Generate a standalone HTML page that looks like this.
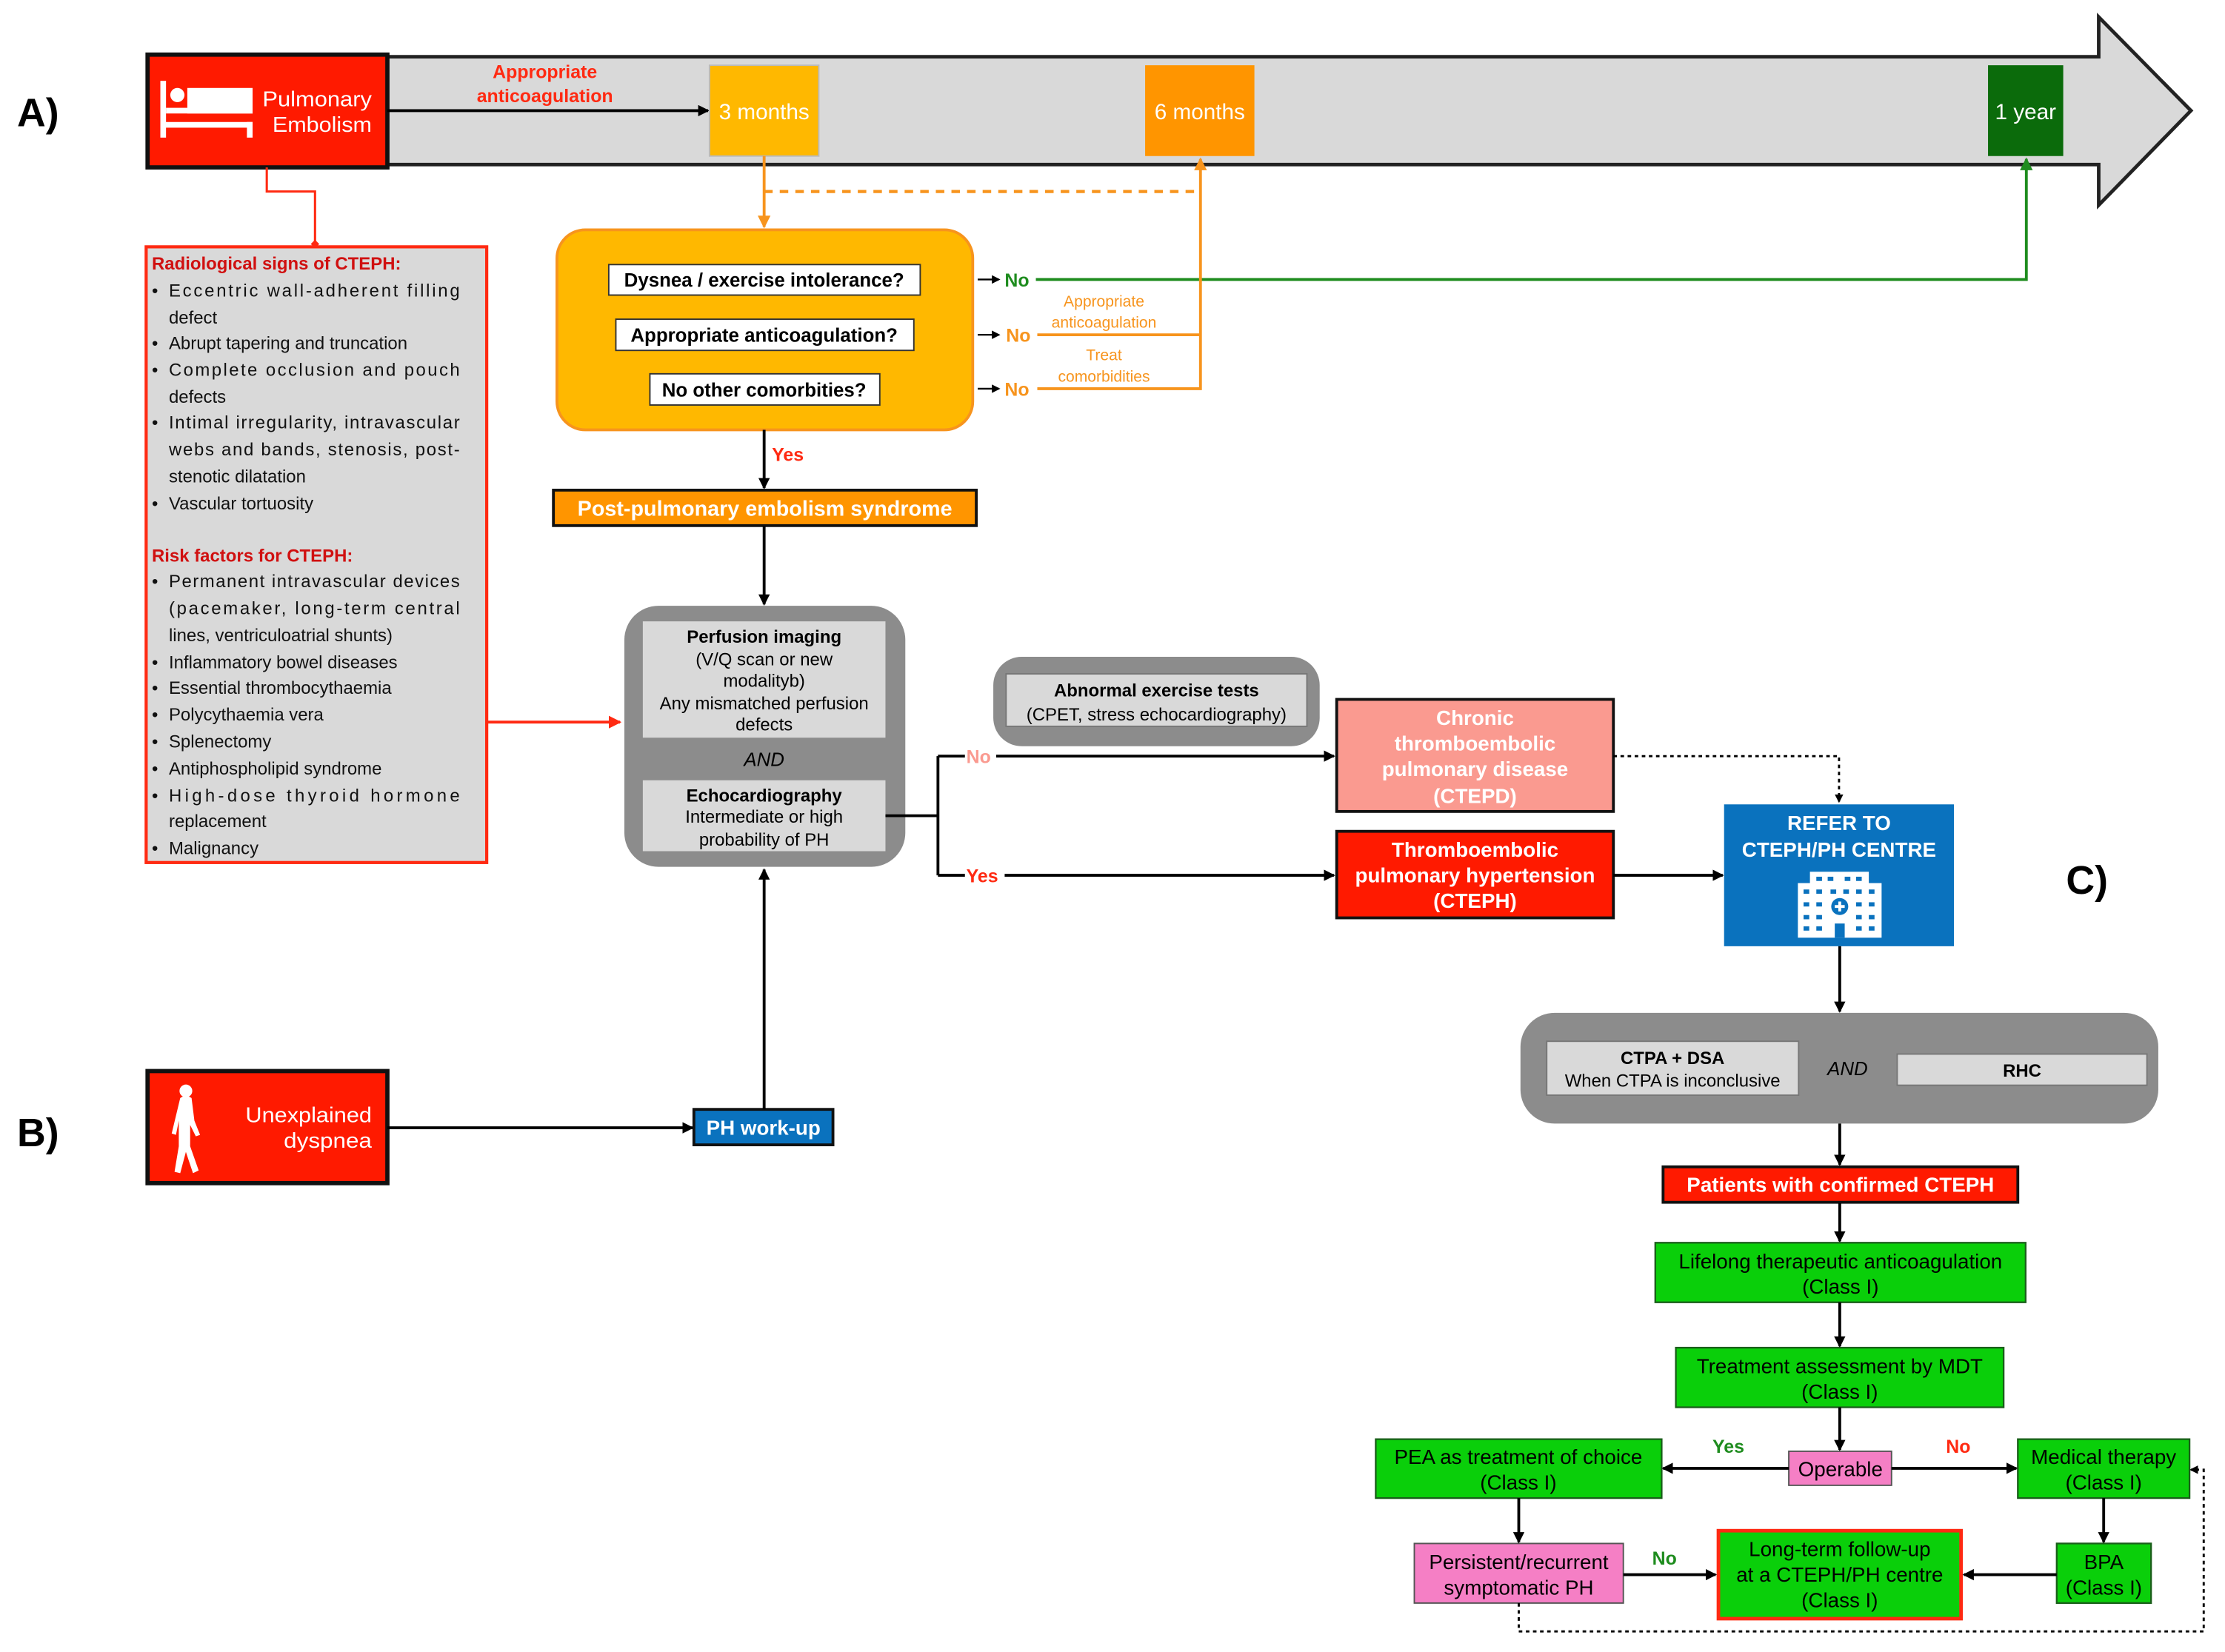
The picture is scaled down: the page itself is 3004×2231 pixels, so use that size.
<!DOCTYPE html>
<html><head><meta charset="utf-8"><style>
html,body{margin:0;padding:0;background:#fff;}
svg{display:block;}
text{font-family:"Liberation Sans",Arial,sans-serif;}
</style></head><body>
<svg width="3004" height="2231" viewBox="0 0 1568 1164.5" preserveAspectRatio="none" xmlns="http://www.w3.org/2000/svg">
<defs>
<marker id="ab" markerWidth="8" markerHeight="8" refX="7" refY="4" orient="auto" markerUnits="userSpaceOnUse"><path d="M0,0 L8,4 L0,8 z" fill="#000"/></marker>
<marker id="abs" markerWidth="6" markerHeight="6" refX="5" refY="3" orient="auto" markerUnits="userSpaceOnUse"><path d="M0,0 L6,3 L0,6 z" fill="#000"/></marker>
<marker id="ao" markerWidth="9" markerHeight="9" refX="8" refY="4.5" orient="auto" markerUnits="userSpaceOnUse"><path d="M0,0 L9,4.5 L0,9 z" fill="#F7941D"/></marker>
<marker id="ag" markerWidth="9" markerHeight="9" refX="8" refY="4.5" orient="auto" markerUnits="userSpaceOnUse"><path d="M0,0 L9,4.5 L0,9 z" fill="#1E8C1E"/></marker>
<marker id="ar" markerWidth="9" markerHeight="9" refX="8" refY="4.5" orient="auto" markerUnits="userSpaceOnUse"><path d="M0,0 L9,4.5 L0,9 z" fill="#FF2A12"/></marker>
<marker id="ard" markerWidth="6" markerHeight="6" refX="3" refY="3" orient="auto" markerUnits="userSpaceOnUse"><path d="M0,3 L3,0 L6,3 L3,6 z" fill="#FF2A12"/></marker>
</defs>

<path d="M273,40 L1479,40 L1479,12 L1544,78 L1479,144.6 L1479,116 L273,116 Z" fill="#D9D9D9" stroke="#222" stroke-width="2.5"/>
<text x="12" y="89" font-size="28" font-weight="bold">A)</text>
<text x="12" y="808" font-size="28" font-weight="bold">B)</text>
<text x="1456" y="630" font-size="28" font-weight="bold">C)</text>

<rect x="104" y="38.5" width="169" height="79.5" fill="#FF1A00" stroke="#111" stroke-width="3"/>
<g fill="#fff">
<rect x="113" y="57" width="4" height="40"/>
<rect x="113" y="86" width="65" height="4"/>
<rect x="174" y="86" width="4" height="11"/>
<circle cx="125" cy="67" r="5"/>
<rect x="132" y="62" width="46" height="18"/>
<rect x="117" y="76" width="61" height="4"/>
</g>
<text x="185" y="75" font-size="15" fill="#fff" textLength="77" lengthAdjust="spacingAndGlyphs">Pulmonary</text>
<text x="192" y="93" font-size="15" fill="#fff" textLength="70" lengthAdjust="spacingAndGlyphs">Embolism</text>

<line x1="273" y1="78" x2="499" y2="78" stroke="#000" stroke-width="2" marker-end="url(#ab)"/>
<text x="384" y="55" font-size="13" font-weight="bold" fill="#FF2A12" text-anchor="middle">Appropriate</text>
<text x="384" y="72" font-size="13" font-weight="bold" fill="#FF2A12" text-anchor="middle">anticoagulation</text>

<rect x="500" y="46" width="77" height="64" fill="#FFB800" stroke="#bbb" stroke-width="1"/>
<text x="538.5" y="84" font-size="15.5" fill="#fff" text-anchor="middle">3 months</text>
<rect x="807" y="46" width="77" height="64" fill="#FF9500"/>
<text x="845.5" y="84" font-size="15.5" fill="#fff" text-anchor="middle">6 months</text>
<rect x="1401" y="46" width="53" height="64" fill="#0B6B0B"/>
<text x="1427.5" y="84" font-size="15.5" fill="#fff" text-anchor="middle">1 year</text>

<polyline points="188,118 188,135 222,135 222,172" fill="none" stroke="#FF2A12" stroke-width="1.6" marker-end="url(#ard)"/>

<rect x="103" y="174" width="240" height="434" fill="#D9D9D9" stroke="#FF2A12" stroke-width="2.2"/>
<g font-size="12.5" fill="#111">
<text x="107" y="190" font-weight="bold" fill="#D01010">Radiological signs of CTEPH:</text>
<text x="107" y="209">•</text><text x="119" y="209" textLength="205" lengthAdjust="spacing">Eccentric wall-adherent filling</text>
<text x="119" y="228">defect</text>
<text x="107" y="246">•</text><text x="119" y="246">Abrupt tapering and truncation</text>
<text x="107" y="265">•</text><text x="119" y="265" textLength="205" lengthAdjust="spacing">Complete occlusion and pouch</text>
<text x="119" y="284">defects</text>
<text x="107" y="302">•</text><text x="119" y="302" textLength="205" lengthAdjust="spacing">Intimal irregularity, intravascular</text>
<text x="119" y="321" textLength="205" lengthAdjust="spacing">webs and bands, stenosis, post-</text>
<text x="119" y="340">stenotic dilatation</text>
<text x="107" y="359">•</text><text x="119" y="359">Vascular tortuosity</text>
<text x="107" y="396" font-weight="bold" fill="#D01010">Risk factors for CTEPH:</text>
<text x="107" y="414">•</text><text x="119" y="414" textLength="205" lengthAdjust="spacing">Permanent intravascular devices</text>
<text x="119" y="433" textLength="205" lengthAdjust="spacing">(pacemaker, long-term central</text>
<text x="119" y="452">lines, ventriculoatrial shunts)</text>
<text x="107" y="471">•</text><text x="119" y="471">Inflammatory bowel diseases</text>
<text x="107" y="489">•</text><text x="119" y="489">Essential thrombocythaemia</text>
<text x="107" y="508">•</text><text x="119" y="508">Polycythaemia vera</text>
<text x="107" y="527">•</text><text x="119" y="527">Splenectomy</text>
<text x="107" y="546">•</text><text x="119" y="546">Antiphospholipid syndrome</text>
<text x="107" y="565">•</text><text x="119" y="565" textLength="205" lengthAdjust="spacing">High-dose thyroid hormone</text>
<text x="119" y="583">replacement</text>
<text x="107" y="602">•</text><text x="119" y="602">Malignancy</text>
</g>

<line x1="538.5" y1="110" x2="538.5" y2="160" stroke="#F7941D" stroke-width="2" marker-end="url(#ao)"/>
<line x1="538.5" y1="135" x2="846" y2="135" stroke="#F7941D" stroke-width="2.2" stroke-dasharray="6,5"/>

<rect x="392.5" y="162" width="293" height="141" rx="20" fill="#FFB800" stroke="#F7941D" stroke-width="2"/>
<g font-size="13.5" font-weight="bold" text-anchor="middle">
<rect x="429" y="186.5" width="219.5" height="21.5" fill="#fff" stroke="#333" stroke-width="1"/>
<text x="538.5" y="202">Dysnea / exercise intolerance?</text>
<rect x="434" y="225" width="210" height="22" fill="#fff" stroke="#333" stroke-width="1"/>
<text x="538.5" y="241">Appropriate anticoagulation?</text>
<rect x="458" y="263.5" width="162" height="22" fill="#fff" stroke="#333" stroke-width="1"/>
<text x="538.5" y="279.5">No other comorbities?</text>
</g>
<line x1="689" y1="197" x2="704" y2="197" stroke="#000" stroke-width="1.2" marker-end="url(#abs)"/>
<line x1="689" y1="236" x2="704" y2="236" stroke="#000" stroke-width="1.2" marker-end="url(#abs)"/>
<line x1="689" y1="274" x2="704" y2="274" stroke="#000" stroke-width="1.2" marker-end="url(#abs)"/>
<text x="708" y="202" font-size="13" font-weight="bold" fill="#1E8C1E">No</text>
<text x="709" y="241" font-size="13" font-weight="bold" fill="#F7941D">No</text>
<text x="708" y="279" font-size="13" font-weight="bold" fill="#F7941D">No</text>
<polyline points="730,197 1428,197 1428,112" fill="none" stroke="#1E8C1E" stroke-width="2" marker-end="url(#ag)"/>
<polyline points="731,236 846,236" fill="none" stroke="#F7941D" stroke-width="2"/>
<polyline points="731,274 846,274 846,112" fill="none" stroke="#F7941D" stroke-width="2" marker-end="url(#ao)"/>
<g font-size="11" fill="#F7941D" text-anchor="middle">
<text x="778" y="216">Appropriate</text><text x="778" y="231">anticoagulation</text>
<text x="778" y="254">Treat</text><text x="778" y="269">comorbidities</text>
</g>

<line x1="538.5" y1="303" x2="538.5" y2="344" stroke="#000" stroke-width="2" marker-end="url(#ab)"/>
<text x="544" y="325" font-size="13" font-weight="bold" fill="#FF2A12">Yes</text>
<rect x="390" y="345.5" width="298" height="25" fill="#FF9500" stroke="#111" stroke-width="2"/>
<text x="539" y="363.5" font-size="15" font-weight="bold" fill="#fff" text-anchor="middle">Post-pulmonary embolism syndrome</text>
<line x1="538.5" y1="371" x2="538.5" y2="426" stroke="#000" stroke-width="2" marker-end="url(#ab)"/>

<rect x="440" y="427" width="198" height="184" rx="24" fill="#8C8C8C"/>
<rect x="453" y="438" width="171" height="82" fill="#D9D9D9"/>
<g font-size="12.5" text-anchor="middle">
<text x="538.5" y="453" font-weight="bold">Perfusion imaging</text>
<text x="538.5" y="469">(V/Q scan or new</text>
<text x="538.5" y="484">modalityb)</text>
<text x="538.5" y="500">Any mismatched perfusion</text>
<text x="538.5" y="515">defects</text>
<text x="538.5" y="540" font-style="italic" font-size="13.5">AND</text>
</g>
<rect x="453" y="550" width="171" height="50" fill="#D9D9D9"/>
<g font-size="12.5" text-anchor="middle">
<text x="538.5" y="565" font-weight="bold">Echocardiography</text>
<text x="538.5" y="580">Intermediate or high</text>
<text x="538.5" y="596">probability of PH</text>
</g>
<line x1="343" y1="509" x2="437" y2="509" stroke="#FF2A12" stroke-width="2" marker-end="url(#ar)"/>

<polyline points="624,575 661,575" fill="none" stroke="#000" stroke-width="2"/>
<line x1="661" y1="533" x2="661" y2="617" stroke="#000" stroke-width="2"/>
<line x1="661" y1="533" x2="940" y2="533" stroke="#000" stroke-width="2" marker-end="url(#ab)"/>
<line x1="661" y1="617" x2="940" y2="617" stroke="#000" stroke-width="2" marker-end="url(#ab)"/>
<rect x="680" y="525" width="22" height="16" fill="#fff"/>
<text x="681" y="538" font-size="13" font-weight="bold" fill="#FA9A90">No</text>
<rect x="680" y="609" width="28" height="16" fill="#fff"/>
<text x="681" y="622" font-size="13" font-weight="bold" fill="#FF2A12">Yes</text>

<rect x="700" y="463" width="230" height="63" rx="20" fill="#8C8C8C"/>
<rect x="709" y="475" width="212" height="37" fill="#D9D9D9" stroke="#777" stroke-width="1"/>
<text x="815" y="491" font-size="12.5" font-weight="bold" text-anchor="middle">Abnormal exercise tests</text>
<text x="815" y="508" font-size="12.5" text-anchor="middle">(CPET, stress echocardiography)</text>

<rect x="942" y="493" width="195" height="79" fill="#FA9A90" stroke="#111" stroke-width="2"/>
<g font-size="14.5" font-weight="bold" fill="#fff" text-anchor="middle">
<text x="1039.5" y="511">Chronic</text>
<text x="1039.5" y="529">thromboembolic</text>
<text x="1039.5" y="547">pulmonary disease</text>
<text x="1039.5" y="566">(CTEPD)</text>
</g>
<rect x="942" y="586" width="195" height="61" fill="#FF1A00" stroke="#111" stroke-width="2"/>
<g font-size="14.5" font-weight="bold" fill="#fff" text-anchor="middle">
<text x="1039.5" y="604">Thromboembolic</text>
<text x="1039.5" y="622">pulmonary hypertension</text>
<text x="1039.5" y="640">(CTEPH)</text>
</g>
<line x1="1137" y1="617" x2="1214" y2="617" stroke="#000" stroke-width="2" marker-end="url(#ab)"/>
<polyline points="1137,533 1296,533 1296,565" fill="none" stroke="#000" stroke-width="1.5" stroke-dasharray="2.5,2.5" marker-end="url(#abs)"/>

<rect x="1215" y="567" width="162" height="100" fill="#0A72BE"/>
<text x="1296" y="585" font-size="14.5" font-weight="bold" fill="#fff" text-anchor="middle">REFER TO</text>
<text x="1296" y="604" font-size="14.5" font-weight="bold" fill="#fff" text-anchor="middle">CTEPH/PH CENTRE</text>
<g fill="#fff">
<rect x="1275.5" y="614.5" width="41.5" height="10"/>
<rect x="1267" y="622.5" width="59" height="38.5"/>
</g>
<g fill="#0A72BE">
<rect x="1280" y="618" width="4" height="3"/><rect x="1288" y="618" width="4" height="3"/><rect x="1300" y="618" width="4" height="3"/><rect x="1308" y="618" width="4" height="3"/>
<rect x="1271" y="627" width="4" height="3"/><rect x="1280" y="627" width="4" height="3"/><rect x="1290" y="627" width="4" height="3"/><rect x="1299" y="627" width="4" height="3"/><rect x="1308" y="627" width="4" height="3"/><rect x="1317" y="627" width="4" height="3"/>
<rect x="1271" y="636" width="4" height="3"/><rect x="1280" y="636" width="4" height="3"/><rect x="1308" y="636" width="4" height="3"/><rect x="1317" y="636" width="4" height="3"/>
<rect x="1271" y="645" width="4" height="3"/><rect x="1280" y="645" width="4" height="3"/><rect x="1308" y="645" width="4" height="3"/><rect x="1317" y="645" width="4" height="3"/>
<rect x="1271" y="653" width="4" height="3"/><rect x="1280" y="653" width="4" height="3"/><rect x="1308" y="653" width="4" height="3"/><rect x="1317" y="653" width="4" height="3"/>
<circle cx="1296.5" cy="639" r="6"/>
<rect x="1293" y="651" width="7" height="10"/>
</g>
<path d="M1293,639 h7 M1296.5,635.5 v7" stroke="#fff" stroke-width="2"/>

<line x1="1296.5" y1="667" x2="1296.5" y2="713" stroke="#000" stroke-width="2" marker-end="url(#ab)"/>

<rect x="1071.5" y="714" width="449.5" height="78" rx="24" fill="#8C8C8C"/>
<rect x="1090" y="734" width="177.5" height="38" fill="#D9D9D9" stroke="#777" stroke-width="1"/>
<text x="1178.7" y="750" font-size="12.5" font-weight="bold" text-anchor="middle">CTPA + DSA</text>
<text x="1178.7" y="766" font-size="12.5" text-anchor="middle">When CTPA is inconclusive</text>
<text x="1302" y="758" font-size="13.5" font-style="italic" text-anchor="middle">AND</text>
<rect x="1337" y="743" width="176" height="22" fill="#D9D9D9" stroke="#777" stroke-width="1"/>
<text x="1425" y="759" font-size="12.5" font-weight="bold" text-anchor="middle">RHC</text>

<line x1="1296.5" y1="792" x2="1296.5" y2="821" stroke="#000" stroke-width="2" marker-end="url(#ab)"/>
<rect x="1172" y="822.5" width="250" height="25" fill="#FF1A00" stroke="#111" stroke-width="2"/>
<text x="1297" y="840" font-size="14.5" font-weight="bold" fill="#fff" text-anchor="middle">Patients with confirmed CTEPH</text>
<line x1="1296.5" y1="848" x2="1296.5" y2="875" stroke="#000" stroke-width="2" marker-end="url(#ab)"/>

<g stroke="#1A5E1A" stroke-width="1.2" fill="#0ACF0A">
<rect x="1166.5" y="876" width="261" height="42"/>
<rect x="1181" y="950" width="231" height="42"/>
<rect x="969.5" y="1014.5" width="201.5" height="41.5"/>
<rect x="1422" y="1014.5" width="121" height="41.5"/>
<rect x="1449.4" y="1088" width="66.5" height="42"/>
</g>
<rect x="1211" y="1079" width="171" height="62" fill="#0ACF0A" stroke="#FF2A12" stroke-width="2.5"/>
<g fill="#F57FC5" stroke="#555" stroke-width="1">
<rect x="1260.6" y="1023" width="72.4" height="24"/>
<rect x="996.7" y="1088" width="147.3" height="42"/>
</g>
<g font-size="14.5" text-anchor="middle" fill="#000">
<text x="1297" y="894">Lifelong therapeutic anticoagulation</text>
<text x="1297" y="912">(Class I)</text>
<text x="1296.5" y="968">Treatment assessment by MDT</text>
<text x="1296.5" y="986">(Class I)</text>
<text x="1297" y="1040.5">Operable</text>
<text x="1070" y="1032">PEA as treatment of choice</text>
<text x="1070" y="1050">(Class I)</text>
<text x="1482.5" y="1032">Medical therapy</text>
<text x="1482.5" y="1050">(Class I)</text>
<text x="1070.3" y="1106">Persistent/recurrent</text>
<text x="1070.3" y="1124">symptomatic PH</text>
<text x="1296.5" y="1097">Long-term follow-up</text>
<text x="1296.5" y="1115">at a CTEPH/PH centre</text>
<text x="1296.5" y="1133">(Class I)</text>
<text x="1482.6" y="1106">BPA</text>
<text x="1482.6" y="1124">(Class I)</text>
</g>
<line x1="1296.5" y1="918" x2="1296.5" y2="949" stroke="#000" stroke-width="2" marker-end="url(#ab)"/>
<line x1="1296.5" y1="992" x2="1296.5" y2="1022" stroke="#000" stroke-width="2" marker-end="url(#ab)"/>
<line x1="1260.6" y1="1035" x2="1172" y2="1035" stroke="#000" stroke-width="2" marker-end="url(#ab)"/>
<line x1="1333" y1="1035" x2="1421" y2="1035" stroke="#000" stroke-width="2" marker-end="url(#ab)"/>
<text x="1218" y="1024" font-size="13" font-weight="bold" fill="#1E8C1E" text-anchor="middle">Yes</text>
<text x="1380" y="1024" font-size="13" font-weight="bold" fill="#FF2A12" text-anchor="middle">No</text>
<line x1="1070.3" y1="1056" x2="1070.3" y2="1087" stroke="#000" stroke-width="2" marker-end="url(#ab)"/>
<line x1="1482.5" y1="1056" x2="1482.5" y2="1087" stroke="#000" stroke-width="2" marker-end="url(#ab)"/>
<line x1="1144" y1="1110" x2="1209" y2="1110" stroke="#000" stroke-width="2" marker-end="url(#ab)"/>
<text x="1173" y="1103" font-size="13" font-weight="bold" fill="#1E8C1E" text-anchor="middle">No</text>
<line x1="1449.4" y1="1110" x2="1384" y2="1110" stroke="#000" stroke-width="2" marker-end="url(#ab)"/>
<polyline points="1070.3,1130 1070.3,1150 1553,1150 1553,1036 1544,1036" fill="none" stroke="#000" stroke-width="1.5" stroke-dasharray="2.5,2.5" marker-end="url(#abs)"/>

<rect x="104" y="755" width="169" height="79" fill="#FF1A00" stroke="#111" stroke-width="3"/>
<g fill="#fff">
<circle cx="131" cy="769" r="4.5"/>
<path d="M127,774 Q131,771 135,774 L137,790 L141,800 L138,801 L134,793 L134,808 L140,825 L136,827 L131,812 L127,827 L123,826 L126,808 L126,790 L124,800 L121,799 Z"/>
</g>
<text x="262" y="791" font-size="15" fill="#fff" text-anchor="end" textLength="89" lengthAdjust="spacingAndGlyphs">Unexplained</text>
<text x="262" y="809" font-size="15" fill="#fff" text-anchor="end" textLength="62" lengthAdjust="spacingAndGlyphs">dyspnea</text>
<line x1="273" y1="795" x2="488" y2="795" stroke="#000" stroke-width="2" marker-end="url(#ab)"/>
<rect x="489" y="782" width="98" height="25" fill="#0A72BE" stroke="#111" stroke-width="2"/>
<text x="538" y="800" font-size="14.5" font-weight="bold" fill="#fff" text-anchor="middle">PH work-up</text>
<line x1="538.5" y1="782" x2="538.5" y2="613" stroke="#000" stroke-width="2" marker-end="url(#ab)"/>
</svg>
</body></html>
